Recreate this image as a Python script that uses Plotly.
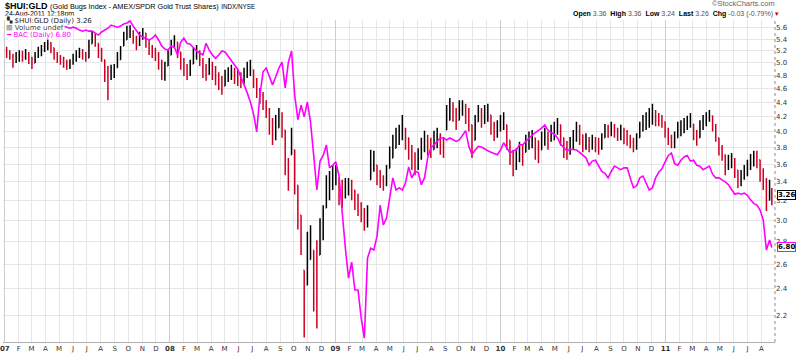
import plotly.graph_objects as go
import pandas as pd
import math

# ---------------- data (weekly bars) ----------------
WEEK_START = "2007-01-05"
N_WEEKS = 242
LAST_DAY = "2011-08-24"

HUI_OPEN = [
    5.20, 5.18, 5.11, 5.02, 5.08, 5.13, 5.10, 5.15, 5.08, 5.00,
    5.10, 5.18, 5.21, 5.27, 5.32, 5.25, 5.15, 5.08, 5.05, 5.00,
    4.95, 4.98, 5.05, 5.11, 5.16, 5.13, 5.08, 5.32, 5.46, 5.33,
    5.21, 5.05, 4.85, 4.76, 4.85, 4.92, 5.05, 5.28, 5.39, 5.49,
    5.53, 5.42, 5.32, 5.42, 5.51, 5.39, 5.25, 5.18, 5.13, 4.98,
    4.85, 4.95, 5.13, 5.28, 5.35, 5.18, 5.05, 4.92, 4.85, 4.98,
    5.11, 5.18, 5.05, 4.89, 4.82, 4.95, 4.85, 4.79, 4.70, 4.64,
    4.76, 4.82, 4.85, 4.79, 4.76, 4.73, 4.79, 4.89, 4.89, 4.73,
    4.58, 4.49, 4.40, 4.29, 4.09, 3.96, 4.05, 4.18, 4.02, 3.65,
    3.71, 3.77, 3.36, 3.05, 2.55, 2.43, 2.64, 2.72, 2.51, 2.68,
    2.86, 3.12, 3.26, 3.36, 3.44, 3.44, 3.31, 3.25, 3.33, 3.36,
    3.31, 3.20, 3.15, 3.08, 2.98, 3.42, 3.59, 3.59, 3.46, 3.42,
    3.37, 3.55, 3.67, 3.79, 3.92, 3.96, 4.02, 3.92, 3.77, 3.65,
    3.55, 3.67, 3.77, 3.89, 3.82, 3.77, 3.89, 3.94, 3.83, 4.02,
    4.15, 4.32, 4.26, 4.15, 4.29, 4.35, 4.26, 4.09, 3.89, 4.13,
    4.26, 4.18, 4.26, 4.22, 4.09, 4.00, 4.02, 4.13, 4.09, 3.89,
    3.74, 3.59, 3.65, 3.77, 3.74, 3.83, 3.89, 3.92, 3.77, 3.77,
    3.89, 3.94, 3.89, 4.00, 4.02, 4.09, 3.92, 3.79, 3.77, 3.83,
    3.89, 4.00, 3.96, 3.83, 3.89, 3.83, 3.87, 3.83, 3.79, 3.92,
    4.02, 4.00, 4.05, 4.02, 3.97, 4.00, 3.94, 3.89, 3.87, 3.82,
    3.92, 4.02, 4.10, 4.15, 4.18, 4.22, 4.18, 4.15, 4.13, 4.02,
    3.92, 3.87, 3.92, 4.02, 4.05, 4.09, 4.13, 4.10, 4.00, 3.92,
    4.05, 4.13, 4.18, 4.21, 4.09, 3.92, 3.79, 3.71, 3.59, 3.62,
    3.65, 3.53, 3.42, 3.44, 3.51, 3.55, 3.62, 3.67, 3.65, 3.51,
    3.42, 3.20, 3.31,
]
HUI_HIGH = [
    5.27, 5.21, 5.15, 5.18, 5.21, 5.20, 5.23, 5.18, 5.10, 5.18,
    5.27, 5.30, 5.35, 5.40, 5.35, 5.25, 5.18, 5.13, 5.10, 5.05,
    5.06, 5.15, 5.21, 5.25, 5.23, 5.18, 5.39, 5.55, 5.51, 5.33,
    5.25, 5.05, 4.95, 4.97, 4.98, 5.18, 5.28, 5.53, 5.64, 5.65,
    5.56, 5.46, 5.53, 5.60, 5.51, 5.39, 5.30, 5.25, 5.18, 5.05,
    5.02, 5.21, 5.39, 5.47, 5.35, 5.18, 5.08, 4.98, 5.05, 5.25,
    5.30, 5.21, 5.08, 4.98, 5.08, 5.02, 4.95, 4.85, 4.79, 4.89,
    4.93, 4.97, 4.92, 4.89, 4.85, 4.92, 5.02, 5.05, 4.89, 4.76,
    4.61, 4.55, 4.43, 4.32, 4.18, 4.22, 4.32, 4.26, 4.02, 3.67,
    4.05, 3.77, 3.36, 3.05, 2.55, 2.89, 2.95, 2.72, 2.81, 3.02,
    3.15, 3.47, 3.52, 3.59, 3.59, 3.44, 3.42, 3.44, 3.44, 3.42,
    3.31, 3.27, 3.18, 3.12, 3.15, 3.77, 3.76, 3.59, 3.53, 3.47,
    3.59, 3.81, 3.96, 4.05, 4.09, 4.22, 4.05, 3.92, 3.83, 3.74,
    3.79, 3.92, 4.01, 3.96, 3.92, 4.01, 4.05, 3.98, 3.93, 4.36,
    4.46, 4.40, 4.32, 4.43, 4.43, 4.38, 4.32, 4.09, 4.22, 4.36,
    4.32, 4.36, 4.38, 4.22, 4.13, 4.15, 4.22, 4.26, 4.09, 3.89,
    3.77, 3.79, 3.87, 3.83, 3.96, 4.00, 4.02, 3.92, 3.89, 4.00,
    4.05, 4.00, 4.09, 4.13, 4.18, 4.09, 3.92, 3.88, 3.93, 4.02,
    4.13, 4.09, 3.96, 3.98, 3.93, 3.96, 3.93, 3.92, 3.98, 4.10,
    4.09, 4.13, 4.10, 4.05, 4.09, 4.05, 4.02, 3.96, 3.92, 3.98,
    4.13, 4.22, 4.26, 4.32, 4.38, 4.29, 4.25, 4.22, 4.13, 4.05,
    3.96, 4.00, 4.13, 4.15, 4.18, 4.21, 4.25, 4.10, 4.02, 4.15,
    4.22, 4.26, 4.29, 4.21, 4.10, 3.92, 3.83, 3.71, 3.71, 3.73,
    3.67, 3.53, 3.53, 3.59, 3.65, 3.72, 3.76, 3.76, 3.65, 3.55,
    3.44, 3.42, 3.33,
]
HUI_LOW = [
    5.08, 5.05, 4.92, 5.00, 5.02, 5.02, 5.05, 4.98, 4.90, 5.00,
    5.08, 5.11, 5.18, 5.21, 5.16, 5.05, 5.00, 4.97, 4.92, 4.89,
    4.90, 4.97, 5.02, 5.08, 5.05, 5.02, 5.08, 5.32, 5.27, 5.08,
    5.02, 4.70, 4.43, 4.73, 4.76, 4.92, 5.05, 5.28, 5.39, 5.42,
    5.32, 5.21, 5.28, 5.39, 5.25, 5.13, 5.08, 5.03, 4.89, 4.73,
    4.72, 4.95, 5.13, 5.25, 5.08, 4.89, 4.79, 4.73, 4.79, 4.98,
    5.05, 4.95, 4.76, 4.72, 4.81, 4.73, 4.65, 4.58, 4.51, 4.64,
    4.70, 4.73, 4.67, 4.64, 4.61, 4.67, 4.76, 4.79, 4.61, 4.46,
    4.38, 4.29, 4.18, 3.96, 3.83, 3.89, 4.05, 3.92, 3.47, 3.30,
    3.71, 3.26, 2.91, 2.68, 2.05, 2.43, 2.64, 2.23, 2.11, 2.68,
    2.81, 3.12, 3.20, 3.31, 3.36, 3.15, 3.12, 3.22, 3.25, 3.20,
    3.10, 3.04, 2.98, 2.90, 2.93, 3.42, 3.51, 3.36, 3.33, 3.30,
    3.35, 3.55, 3.67, 3.79, 3.83, 3.89, 3.77, 3.65, 3.53, 3.47,
    3.53, 3.65, 3.74, 3.70, 3.67, 3.77, 3.79, 3.71, 3.67, 4.02,
    4.15, 4.13, 4.02, 4.15, 4.21, 4.10, 4.00, 3.67, 3.89, 4.13,
    4.05, 4.10, 4.13, 3.96, 3.88, 3.92, 4.00, 4.02, 3.77, 3.59,
    3.46, 3.53, 3.62, 3.58, 3.74, 3.77, 3.79, 3.65, 3.61, 3.77,
    3.82, 3.77, 3.87, 3.89, 3.96, 3.82, 3.67, 3.65, 3.71, 3.77,
    3.87, 3.83, 3.74, 3.77, 3.74, 3.77, 3.74, 3.71, 3.77, 3.92,
    3.92, 3.94, 3.92, 3.88, 3.89, 3.84, 3.82, 3.79, 3.74, 3.77,
    3.92, 4.00, 4.02, 4.05, 4.09, 4.07, 4.07, 4.05, 3.92, 3.83,
    3.79, 3.79, 3.92, 3.94, 3.98, 4.02, 4.05, 3.89, 3.82, 3.92,
    4.02, 4.07, 4.13, 4.00, 3.87, 3.70, 3.64, 3.47, 3.53, 3.55,
    3.44, 3.33, 3.35, 3.42, 3.46, 3.53, 3.57, 3.55, 3.40, 3.31,
    3.09, 3.20, 3.15,
]
HUI_CLOSE = [
    5.18, 5.11, 5.02, 5.08, 5.13, 5.10, 5.15, 5.08, 4.98, 5.10,
    5.18, 5.21, 5.27, 5.32, 5.25, 5.15, 5.08, 5.05, 5.00, 4.95,
    4.98, 5.05, 5.11, 5.16, 5.13, 5.08, 5.28, 5.46, 5.39, 5.21,
    5.11, 4.85, 4.76, 4.85, 4.89, 5.05, 5.18, 5.39, 5.49, 5.53,
    5.42, 5.32, 5.42, 5.51, 5.39, 5.25, 5.18, 5.13, 4.98, 4.85,
    4.89, 5.11, 5.28, 5.39, 5.21, 5.05, 4.92, 4.85, 4.95, 5.11,
    5.18, 5.05, 4.89, 4.82, 4.95, 4.85, 4.79, 4.70, 4.64, 4.76,
    4.82, 4.85, 4.79, 4.76, 4.73, 4.79, 4.89, 4.92, 4.73, 4.58,
    4.49, 4.40, 4.29, 4.09, 3.96, 4.05, 4.18, 4.09, 3.65, 3.40,
    3.89, 3.47, 3.10, 2.81, 2.24, 2.64, 2.81, 2.51, 2.39, 2.86,
    3.00, 3.26, 3.36, 3.44, 3.51, 3.31, 3.25, 3.33, 3.36, 3.31,
    3.20, 3.15, 3.08, 2.98, 3.05, 3.59, 3.65, 3.46, 3.42, 3.37,
    3.46, 3.65, 3.79, 3.92, 3.96, 4.02, 3.92, 3.77, 3.65, 3.55,
    3.67, 3.77, 3.89, 3.82, 3.77, 3.89, 3.94, 3.83, 3.79, 4.15,
    4.32, 4.26, 4.15, 4.29, 4.35, 4.26, 4.13, 3.83, 4.09, 4.26,
    4.18, 4.26, 4.29, 4.09, 4.00, 4.02, 4.13, 4.18, 3.89, 3.74,
    3.59, 3.65, 3.77, 3.71, 3.83, 3.89, 3.92, 3.77, 3.74, 3.89,
    3.94, 3.89, 4.00, 4.02, 4.09, 3.96, 3.79, 3.77, 3.83, 3.89,
    4.00, 3.96, 3.83, 3.89, 3.83, 3.87, 3.83, 3.79, 3.89, 4.02,
    4.00, 4.05, 4.02, 3.97, 4.00, 3.94, 3.89, 3.87, 3.82, 3.89,
    4.02, 4.10, 4.15, 4.18, 4.22, 4.18, 4.15, 4.13, 4.02, 3.92,
    3.87, 3.89, 4.02, 4.05, 4.09, 4.13, 4.15, 4.00, 3.89, 4.05,
    4.13, 4.18, 4.22, 4.09, 3.96, 3.79, 3.71, 3.59, 3.62, 3.65,
    3.53, 3.42, 3.44, 3.51, 3.55, 3.62, 3.67, 3.65, 3.51, 3.42,
    3.20, 3.31, 3.26,
]
BAC_CLOSE = [
    43.4, 43.8, 44.1, 43.8, 43.0, 43.4, 43.8, 43.4, 42.7, 43.0,
    43.4, 43.8, 44.1, 44.1, 44.5, 44.5, 44.9, 44.5, 44.9, 44.5,
    44.1, 44.5, 44.1, 43.4, 43.0, 43.4, 43.0, 43.0, 42.3, 41.6,
    42.7, 43.4, 44.1, 45.3, 44.9, 44.5, 44.9, 45.7, 46.1, 46.9,
    44.9, 43.4, 41.6, 40.9, 40.5, 39.9, 40.5, 41.6, 39.9, 37.9,
    36.9, 36.6, 37.9, 37.5, 35.1, 39.2, 40.5, 38.8, 38.5, 37.5,
    36.3, 35.7, 35.1, 38.8, 36.6, 35.1, 34.1, 35.1, 36.3, 36.0,
    34.8, 33.6, 32.2, 31.1, 29.3, 27.2, 25.4, 23.5, 21.2, 18.2,
    24.9, 30.4, 31.4, 29.3, 27.2, 29.1, 31.4, 33.0, 26.5, 33.0,
    36.3, 24.9, 20.2, 22.9, 20.7, 23.5, 19.8, 14.9, 11.1, 14.2,
    14.9, 16.3, 13.4, 13.7, 14.1, 12.5, 8.96, 6.76, 5.23, 6.00,
    4.73, 4.73, 3.72, 3.14, 6.21, 6.76, 6.65, 7.49, 9.76, 8.23,
    8.73, 10.2, 12.3, 11.1, 11.3, 11.1, 11.8, 13.5, 12.3, 13.0,
    12.9, 11.6, 12.3, 14.6, 15.9, 16.3, 16.8, 17.3, 17.3, 17.0,
    17.3, 17.0, 16.8, 17.0, 17.7, 18.4, 16.1, 15.0, 15.6, 16.1,
    16.0, 15.7, 15.5, 15.3, 15.1, 15.0, 15.6, 16.6, 15.9, 15.2,
    15.5, 15.6, 16.3, 16.3, 16.8, 17.3, 17.7, 18.1, 18.4, 18.8,
    19.3, 18.5, 18.1, 17.9, 17.3, 16.4, 15.9, 15.5, 15.7, 15.7,
    15.6, 15.3, 15.0, 14.6, 13.7, 14.2, 14.3, 13.7, 13.0, 12.8,
    12.3, 13.0, 13.6, 13.4, 13.2, 13.4, 13.4, 12.3, 11.3, 11.5,
    12.3, 12.5, 11.8, 11.1, 11.3, 12.3, 12.9, 13.3, 14.1, 14.9,
    15.2, 13.9, 13.7, 14.3, 14.7, 14.9, 14.2, 14.3, 13.7, 13.6,
    13.2, 13.4, 13.6, 12.7, 12.3, 12.3, 12.1, 11.9, 11.6, 11.1,
    10.7, 10.8, 10.7, 10.8, 10.6, 10.2, 9.9, 9.76, 9.35, 8.59,
    6.65, 7.24, 6.80,
]

Y_TICKS = [2.2, 2.4, 2.6, 2.8, 3.0, 3.2, 3.4, 3.6, 3.8, 4.0,
           4.2, 4.4, 4.6, 4.8, 5.0, 5.2, 5.4, 5.6]
MONTH_LETTERS = ["J", "F", "M", "A", "M", "J", "J", "A", "S", "O", "N", "D"]

X_RANGE = ["2006-12-28", "2011-08-31"]
Y_RANGE = [2.02, 5.747]          # HUI:GLD (log scale)
Y2_RANGE = [3.035, 47.3]         # BAC overlay (log scale)

LAST_HUI = 3.26
LAST_BAC = 6.80

# ---------------- build ----------------
dates = list(pd.date_range(WEEK_START, periods=N_WEEKS, freq="7D")) + [pd.Timestamp(LAST_DAY)]
n = len(dates)
for arr in (HUI_OPEN, HUI_HIGH, HUI_LOW, HUI_CLOSE, BAC_CLOSE):
    assert len(arr) == n, (len(arr), n)

months = pd.date_range("2007-01-01", "2011-08-01", freq="MS")
tick_text = [("<b>%s</b>" % m.strftime("%y")) if m.month == 1 else MONTH_LETTERS[m.month - 1]
             for m in months]
years = [m for m in months if m.month == 1]

fig = go.Figure()
fig.add_trace(go.Ohlc(
    x=dates, open=HUI_OPEN, high=HUI_HIGH, low=HUI_LOW, close=HUI_CLOSE,
    increasing=dict(line=dict(color="#000000", width=1.5)),
    decreasing=dict(line=dict(color="#cc0022", width=1.5)),
    tickwidth=0.35, hoverinfo="skip", xaxis="x", yaxis="y",
))
fig.add_trace(go.Scatter(
    x=dates, y=BAC_CLOSE, mode="lines",
    line=dict(color="#ff00ff", width=1.6),
    hoverinfo="skip", xaxis="x2", yaxis="y2",
))

PLOT_TOP, PLOT_BOT = 20, 342
H = PLOT_BOT - PLOT_TOP


def py(ypix):
    return (PLOT_BOT - ypix) / H


fig.update_layout(
    width=800, height=354,
    margin=dict(l=0, r=25, t=PLOT_TOP, b=354 - PLOT_BOT),
    paper_bgcolor="white", plot_bgcolor="white",
    showlegend=False,
    font=dict(family="DejaVu Sans", size=7, color="#333333"),
    xaxis=dict(
        type="date", range=X_RANGE, tickmode="array",
        tickvals=list(months), ticktext=tick_text,
        showgrid=True, gridcolor="#e6e6e6", gridwidth=1,
        ticks="", zeroline=False, showline=True, linecolor="#b0b0b0",
        tickfont=dict(family="DejaVu Sans", size=7, color="#333333"),
        ticklabeloverflow="allow",
        rangeslider=dict(visible=False), fixedrange=True,
    ),
    xaxis2=dict(
        type="date", range=X_RANGE, overlaying="x", tickmode="array",
        tickvals=years, showticklabels=False, showgrid=True,
        gridcolor="#cdcdcd", gridwidth=1, ticks="", zeroline=False,
        showline=False,
    ),
    yaxis=dict(
        type="log", range=[math.log10(Y_RANGE[0]), math.log10(Y_RANGE[1])],
        side="right", tickmode="array", tickvals=Y_TICKS,
        ticktext=["%.1f" % v for v in Y_TICKS],
        showgrid=True, gridcolor="#e6e6e6", gridwidth=1,
        ticks="", zeroline=False, showline=False,
        tickfont=dict(family="DejaVu Sans", size=7, color="#333333"),
    ),
    yaxis2=dict(
        type="log", range=[math.log10(Y2_RANGE[0]), math.log10(Y2_RANGE[1])],
        overlaying="y", visible=False, showgrid=False,
    ),
)

# dotted right border of the plot area
fig.add_shape(type="line", xref="paper", yref="paper", x0=1, x1=1, y0=0, y1=1,
              line=dict(color="#8c8c8c", width=1, dash="dot"))

ann = []
ann.append(dict(
    xref="paper", yref="paper", x=0, y=py(6), xanchor="left", yanchor="middle",
    text="<b>$HUI:GLD</b> <span style='font-size:7.3px'>(Gold Bugs Index - AMEX/SPDR Gold Trust Shares)</span>"
         " <span style='font-size:6.3px'>INDX/NYSE</span>",
    font=dict(family="Liberation Sans", size=9, color="#000000"), showarrow=False))
ann.append(dict(
    xref="paper", yref="paper", x=0, y=py(13.5), xanchor="left", yanchor="middle",
    text="24-Aug-2011 12:18pm",
    font=dict(family="Liberation Sans", size=7, color="#000000"), showarrow=False))
ann.append(dict(
    xref="paper", yref="paper", x=777 / 775, y=py(4), xanchor="right", yanchor="middle",
    text="©StockCharts.com",
    font=dict(family="Liberation Sans", size=7.5, color="#666666"), showarrow=False))
ann.append(dict(
    xref="paper", yref="paper", x=781 / 775, y=py(14), xanchor="right", yanchor="middle",
    text="<b>Open</b> <span style='color:#555'>3.36</span>  <b>High</b> <span style='color:#555'>3.36</span>"
         "  <b>Low</b> <span style='color:#555'>3.24</span>  <b>Last</b> <span style='color:#555'>3.26</span>"
         "  <b>Chg</b> <span style='color:#555'>-0.03 (-0.79%)</span> <span style='color:#d40000'>▾</span>",
    font=dict(family="Liberation Sans", size=7, color="#000000"), showarrow=False))

# in-plot legend
ann.append(dict(
    xref="paper", yref="paper", x=0.003, y=py(21), xanchor="left", yanchor="middle",
    text="<b>▚</b> $HUI:GLD (Daily) %.2f" % LAST_HUI, bgcolor="white", borderpad=0,
    font=dict(family="DejaVu Sans", size=7, color="#222222"), showarrow=False))
ann.append(dict(
    xref="paper", yref="paper", x=0.003, y=py(28), xanchor="left", yanchor="middle",
    text="▥ Volume undef", bgcolor="white", borderpad=0,
    font=dict(family="DejaVu Sans", size=7, color="#444444"), showarrow=False))
ann.append(dict(
    xref="paper", yref="paper", x=0.003, y=py(35), xanchor="left", yanchor="middle",
    text="━ BAC (Daily) %.2f" % LAST_BAC, bgcolor="white", borderpad=0,
    font=dict(family="DejaVu Sans", size=7, color="#ff00ff"), showarrow=False))

# last-value tags on the right axis (they sit on top of the axis labels, as in the original)
ann.append(dict(
    xref="paper", yref="y", x=1.002, y=math.log10(LAST_HUI), xanchor="left", yanchor="middle",
    text="<b>%.2f</b>" % LAST_HUI, bgcolor="white", bordercolor="#000000", borderwidth=1, borderpad=0,
    font=dict(family="DejaVu Sans", size=7, color="#000000"), showarrow=False))
ann.append(dict(
    xref="paper", yref="y2", x=1.002, y=math.log10(LAST_BAC), xanchor="left", yanchor="middle",
    text="<b>%.2f</b>" % LAST_BAC, bgcolor="white", bordercolor="#ff00ff", borderwidth=1, borderpad=0,
    font=dict(family="DejaVu Sans", size=7, color="#000000"), showarrow=False))

fig.update_layout(annotations=ann)
fig.write_html("out.html")
